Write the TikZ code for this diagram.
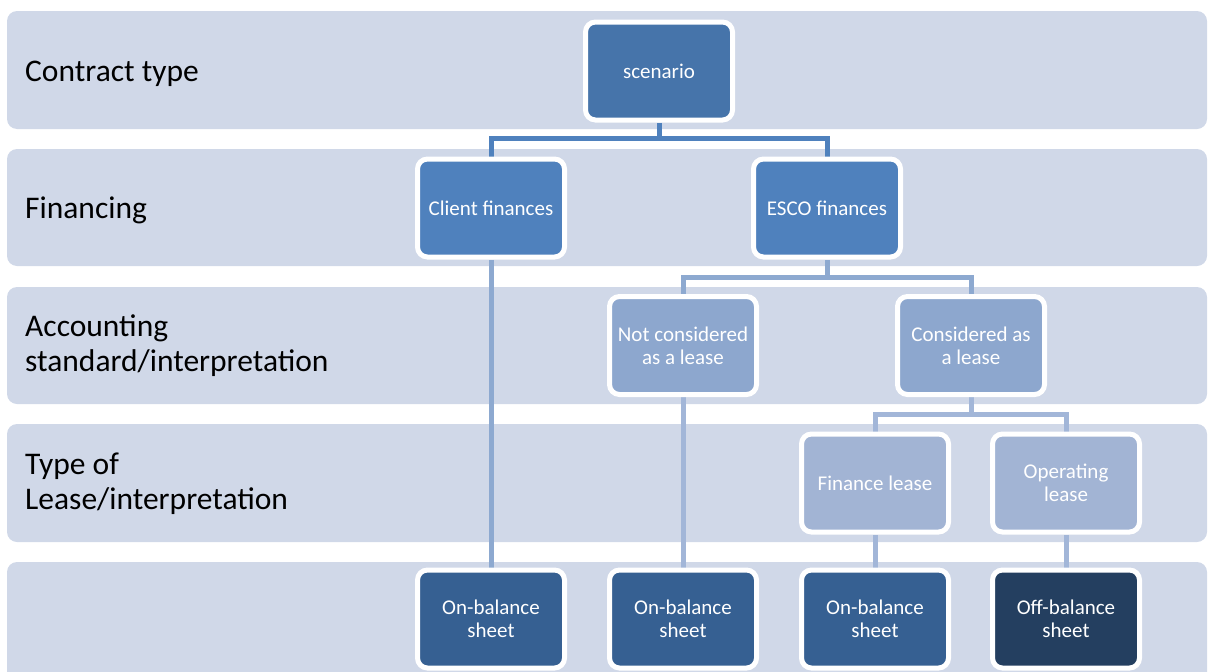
\documentclass[tikz,border=0pt]{standalone}
\usepackage{fontspec}
\setmainfont{Carlito}
\usetikzlibrary{backgrounds}
\definecolor{bandc}{HTML}{D0D8E8}
\definecolor{lvA}{HTML}{4674AA}
\definecolor{lvB}{HTML}{4F81BD}
\definecolor{lvC}{HTML}{8DA7CE}
\definecolor{lvD}{HTML}{A2B4D4}
\definecolor{lvOn}{HTML}{366092}
\definecolor{lvOff}{HTML}{243F60}
\definecolor{cnA}{HTML}{4F81BD}
\definecolor{cnB}{HTML}{8DA9D0}
\definecolor{cnC}{HTML}{A2B6D8}
\begin{document}
\begin{tikzpicture}[x=1pt,y=-1pt,
  band/.style={fill=bandc, rounded corners=10pt},
  lbl/.style={font=\fontsize{31.5}{35}\selectfont, align=left, inner sep=0pt, text=black},
  box/.style={draw=white, line width=5pt, rounded corners=10pt, minimum width=147pt,
    minimum height=98pt, text=white, align=center, font=\fontsize{21}{23}\selectfont, inner sep=0pt},
  conA/.style={draw=cnA, line width=5pt},
  conB/.style={draw=cnB, line width=5pt},
  conC/.style={draw=cnC, line width=5pt}]
\useasboundingbox (0,0) rectangle (1208,672);
\clip (0,0) rectangle (1208,672);
% band labels
\node[lbl, anchor=base west] (l1) at (25,81) {Contract type};
\node[lbl, anchor=base west] (l2) at (25,218) {Financing};
\node[lbl, anchor=west] (l3) at (25,346) {Accounting\\standard/interpretation};
\node[lbl, anchor=west] (l4) at (25,484) {Type of\\Lease/interpretation};
% nodes
\node[box, fill=lvA] (sc) at (659,71) {scenario};
\node[box, fill=lvB] (cf) at (491,208) {Client finances};
\node[box, fill=lvB] (esco) at (827,208) {ESCO finances};
\node[box, fill=lvC] (ncl) at (683,345.5) {Not considered\\as a lease};
\node[box, fill=lvC] (cl) at (971,345.5) {Considered as\\a lease};
\node[box, fill=lvD] (fl) at (875,483) {Finance lease};
\node[box, fill=lvD] (ol) at (1066,483) {Operating\\lease};
\node[box, fill=lvOn] (ob1) at (491,619) {On-balance\\sheet};
\node[box, fill=lvOn] (ob2) at (683,619) {On-balance\\sheet};
\node[box, fill=lvOn] (ob3) at (875,619) {On-balance\\sheet};
\node[box, fill=lvOff] (off) at (1066,619) {Off-balance\\sheet};
\begin{scope}[on background layer]
% bands
\fill[band] (7,11) rectangle (1207,129);
\fill[band] (7,149) rectangle (1207,266);
\fill[band] (7,287) rectangle (1207,404);
\fill[band] (7,424) rectangle (1207,542);
\fill[band] (7,562) rectangle (1207,700);
% connectors
\coordinate (j1) at (659,138);
\coordinate (j2) at (827,277);
\coordinate (j3) at (971,414);
\draw[conA] (sc.south) -- (j1) -| (cf.north);
\draw[conA] (j1) -| (esco.north);
\draw[conB] (esco.south) -- (j2) -| (ncl.north);
\draw[conB] (j2) -| (cl.north);
\draw[conB] (cf.south) -- (ob1.north);
\draw[conC] (cl.south) -- (j3) -| (fl.north);
\draw[conC] (j3) -| (ol.north);
\draw[conC] (ncl.south) -- (ob2.north);
\draw[conC] (fl.south) -- (ob3.north);
\draw[conC] (ol.south) -- (off.north);
\end{scope}
\end{tikzpicture}
\end{document}
